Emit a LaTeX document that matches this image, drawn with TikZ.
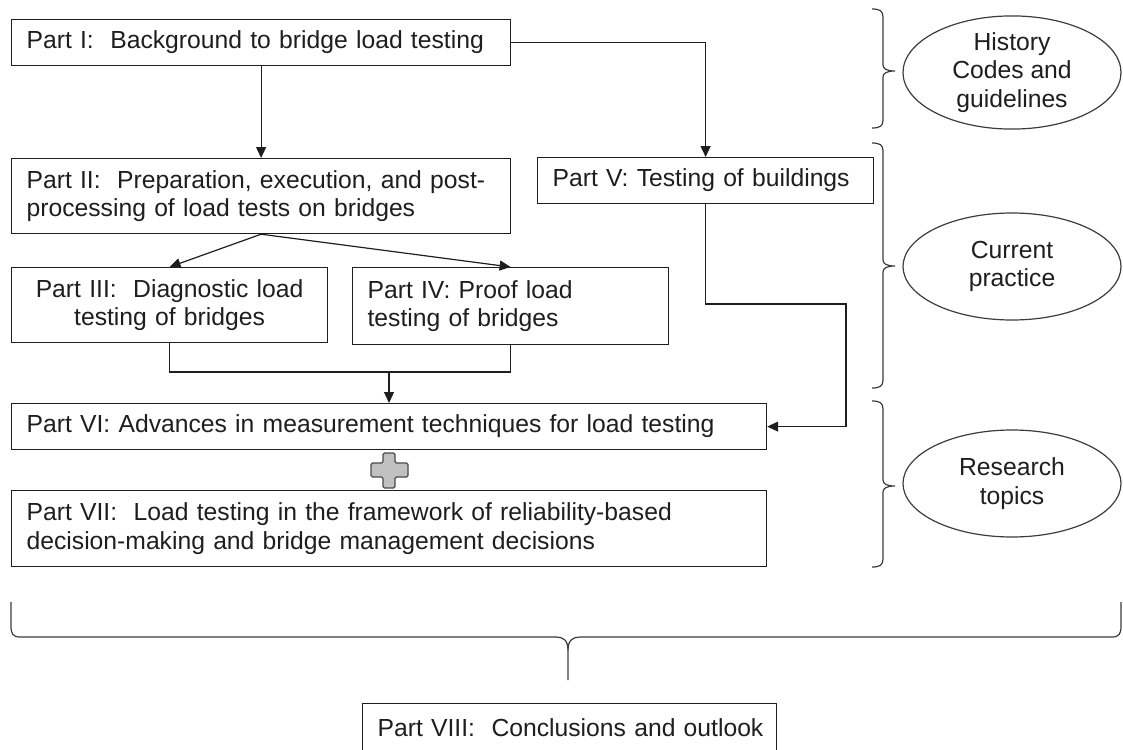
\documentclass[tikz,border=0pt]{standalone}
\usepackage{fontspec}
\setmainfont{Liberation Sans}
\usetikzlibrary{arrows.meta,shapes.geometric}
\definecolor{ink}{HTML}{1E1E1E}
\definecolor{bracecol}{HTML}{3C3C3C}
\definecolor{plusfill}{HTML}{C0C0C0}
\definecolor{plusline}{HTML}{4A4A4A}
\newcommand{\rightbrc}[3]{%
  \draw[bracestyle] (872,#1) .. controls (880,#1) and (883,#1+2) .. (883,#1+8)
    -- (883,#2-6) .. controls (883,#2-2) and (887,#2) .. (895,#2)
    .. controls (887,#2) and (883,#2+2) .. (883,#2+6)
    -- (883,#3-8) .. controls (883,#3-2) and (880,#3) .. (872,#3);}
\begin{document}
\begin{tikzpicture}[x=1pt,y=-1pt,
  every node/.style={font=\fontsize{24.7}{28.5}\selectfont, text=ink},
  box/.style={draw=ink, line width=1.2pt, inner xsep=15pt, inner ysep=0pt, align=left, anchor=north west},
  oval/.style={ellipse, draw=bracecol, line width=1.2pt, minimum width=218pt, minimum height=107pt, inner sep=0pt, align=center},
  conn/.style={draw=ink, line width=1.2pt},
  arr/.style={conn, -{Triangle[length=11pt,width=10pt]}},
  bracestyle/.style={draw=bracecol, line width=1.2pt}
]
\useasboundingbox (0,0) rectangle (1123,749);

% boxes
\node[box, text width=469pt, minimum height=46pt] (p1) at (11,19) {\mbox{Part I:\ \ Background to bridge load testing}};
\node[box, text width=469pt, minimum height=75pt] (p2) at (11,158) {\mbox{Part II:\ \ Preparation, execution, and post-}\\\mbox{processing of load tests on bridges}};
\node[box, text width=286pt, minimum height=75pt, align=center] (p3) at (11,267) {\mbox{Part III:\ \ Diagnostic load}\\\mbox{testing of bridges}};
\node[box, text width=286pt, minimum height=77pt] (p4) at (352,267) {\mbox{Part IV: Proof load}\\\mbox{testing of bridges}};
\node[box, text width=306pt, minimum height=46pt] (p5) at (537,157) {\mbox{Part V: Testing of buildings}};
\node[box, text width=725pt, minimum height=46pt] (p6) at (11,403) {\mbox{Part VI: Advances in measurement techniques for load testing}};
\node[box, text width=725pt, minimum height=76pt] (p7) at (11,490) {\mbox{Part VII:\ \ Load testing in the framework of reliability-based}\\\mbox{decision-making and bridge management decisions}};
\node[box, text width=384pt, minimum height=48pt] (p8) at (362,703) {\mbox{Part VIII:\ \ Conclusions and outlook}};

% ellipses
\node[oval] (e1) at (1012,72.5) {History\\Codes and\\guidelines};
\node[oval] (e2) at (1012,266.5) {Current\\practice};
\node[oval] (e3) at (1012,483.5) {Research\\topics};

% connectors
\draw[arr] (p1.south) -- (p2.north);
\draw[arr] (p1.east) -| (p5.north);
\draw[arr] (p2.south) -- (p3.north);
\draw[arr] (p2.south) -- (p4.north);
\coordinate (j) at (389,372);
\draw[conn] (p3.south) |- (j) -| (p4.south);
\draw[arr] (j) -- (j |- p6.north);
\coordinate (k) at (846,304);
\draw[arr] (p5.south) |- (k) |- (p6.east);

% plus sign
\draw[line width=1.2pt, draw=plusline, fill=plusfill, rounded corners=1.5pt]
  (383,453) -- (395,453) -- (395,463) -- (408,463) -- (408,477) -- (395,477)
  -- (395,488) -- (383,488) -- (383,477) -- (371,477) -- (371,463) -- (383,463) -- cycle;

% right braces
\rightbrc{9}{71}{128}
\rightbrc{143}{266}{388}
\rightbrc{401}{486}{567}

% bottom brace
\draw[bracestyle] (11,602) -- (11,626) .. controls (11,634) and (13,637) .. (20,637)
  -- (556,637) .. controls (563,637) and (568,640) .. (568,650) -- (568,680);
\draw[bracestyle] (568,650) .. controls (568,640) and (573,637) .. (580,637)
  -- (1112,637) .. controls (1119,637) and (1121,634) .. (1121,626) -- (1121,602);
\end{tikzpicture}
\end{document}
